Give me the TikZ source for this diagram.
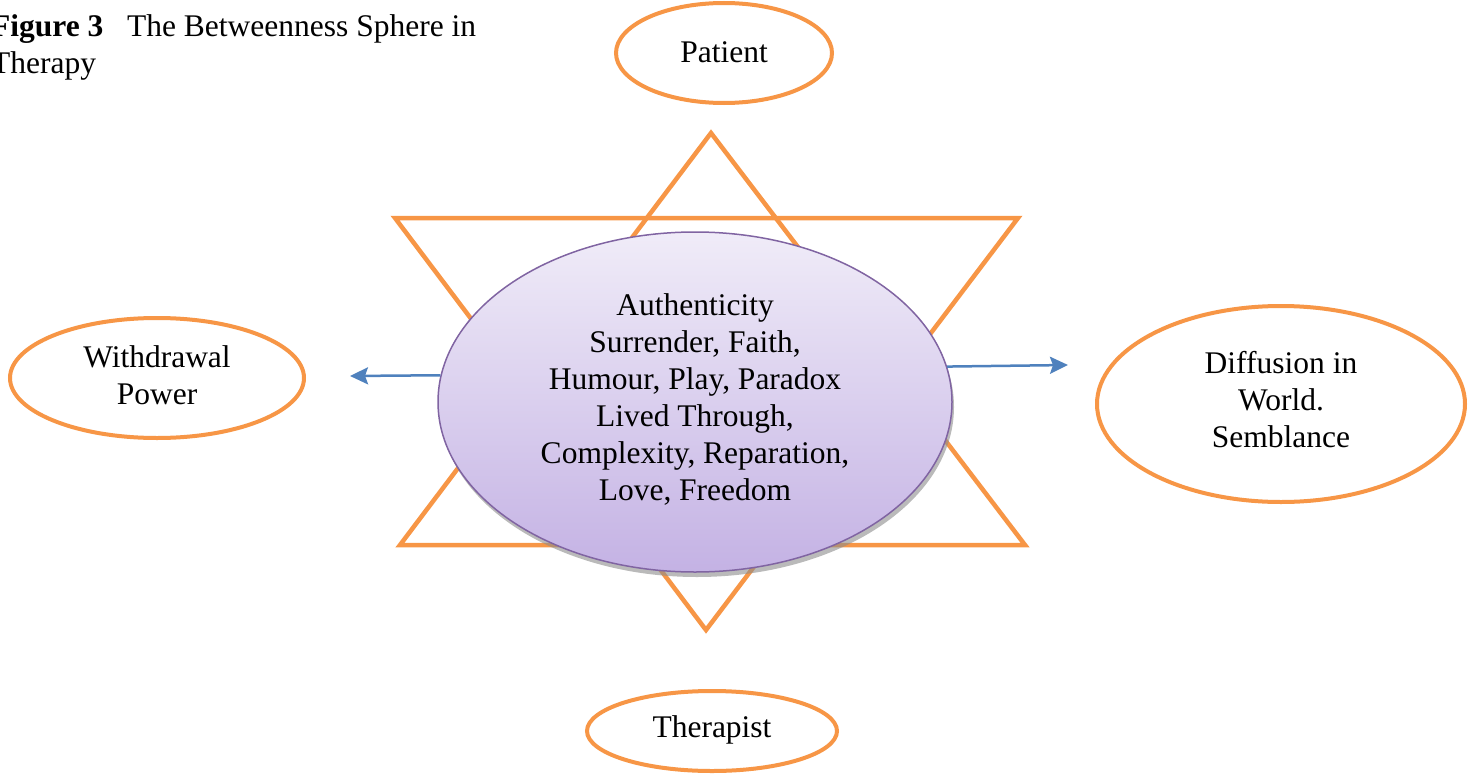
\documentclass[tikz,border=0pt]{standalone}
\usepackage{fontspec}
\setmainfont{Liberation Serif}
\usetikzlibrary{shapes.geometric,arrows.meta,shadows}
\definecolor{orng}{RGB}{247,150,70}
\definecolor{blu}{RGB}{79,129,189}
\definecolor{purp}{RGB}{128,100,162}
\definecolor{lavtop}{RGB}{240,236,248}
\definecolor{lavbot}{RGB}{196,178,228}
\begin{document}
\begin{tikzpicture}[x=1pt,y=-1pt,
  txt/.style={font=\fontsize{31.5}{37}\selectfont, align=center},
  outer/.style={ellipse, draw=orng, line width=4pt, fill=white, inner sep=0pt, txt},
  tri/.style={draw=orng, line width=4.5pt, line join=miter},
  conn/.style={draw=blu, line width=2.5pt, -{Triangle[length=18pt,width=17pt,inset=3pt]}}]
\useasboundingbox (0,0) rectangle (1475,776);
% title
\node[anchor=base west, font=\fontsize{31.5}{37}\selectfont, inner sep=0pt] (t1) at (-9,37) {\textbf{Figure 3}\hspace{0.5em} The Betweenness Sphere in};
\node[anchor=base west, font=\fontsize{31.5}{37}\selectfont, inner sep=0pt] (t2) at (-9,74) {Therapy};
% star
\coordinate (ua) at (711,133);
\coordinate (ul) at (400,545);
\coordinate (ur) at (1025,545);
\coordinate (dl) at (395,218);
\coordinate (dr) at (1018,218);
\coordinate (da) at (706,630);
\draw[tri] (ua) -- (ur) -- (ul) -- cycle;
\draw[tri] (dl) -- (dr) -- (da) -- cycle;
% centre
\node[ellipse, minimum width=514pt, minimum height=340pt, draw=purp, line width=1.5pt,
  top color=lavtop, bottom color=lavbot,
  drop shadow={shadow xshift=2pt, shadow yshift=-5pt, fill=black!45, opacity=0.6},
  txt] (c) at (695,402) {};
\node[txt, anchor=base] (ctext) at (695,500) {Authenticity\\Surrender, Faith,\\Humour, Play, Paradox\\Lived Through,\\Complexity, Reparation,\\Love, Freedom};
% outer nodes
\node[outer, minimum width=216pt, minimum height=100pt] (pat) at (724,53) {};
\node[txt, anchor=base] (pattext) at (724,63) {Patient};
\node[outer, minimum width=294pt, minimum height=120pt] (wd) at (157,378) {};
\node[txt, anchor=base] (wdtext) at (157,404) {Withdrawal\\Power};
\node[outer, minimum width=368pt, minimum height=196pt] (df) at (1281,404) {};
\node[txt, anchor=base] (dftext) at (1281,447) {Diffusion in\\World.\\Semblance};
\node[outer, minimum width=250pt, minimum height=80pt] (th) at (712,731) {};
\node[txt, anchor=base] (thtext) at (712,737) {Therapist};
% arrows
\coordinate (lend) at (350,376);
\coordinate (rend) at (1068,365);
\draw[conn] (c.174) -- (lend);
\draw[conn] (c.8) -- (rend);
\end{tikzpicture}
\end{document}
